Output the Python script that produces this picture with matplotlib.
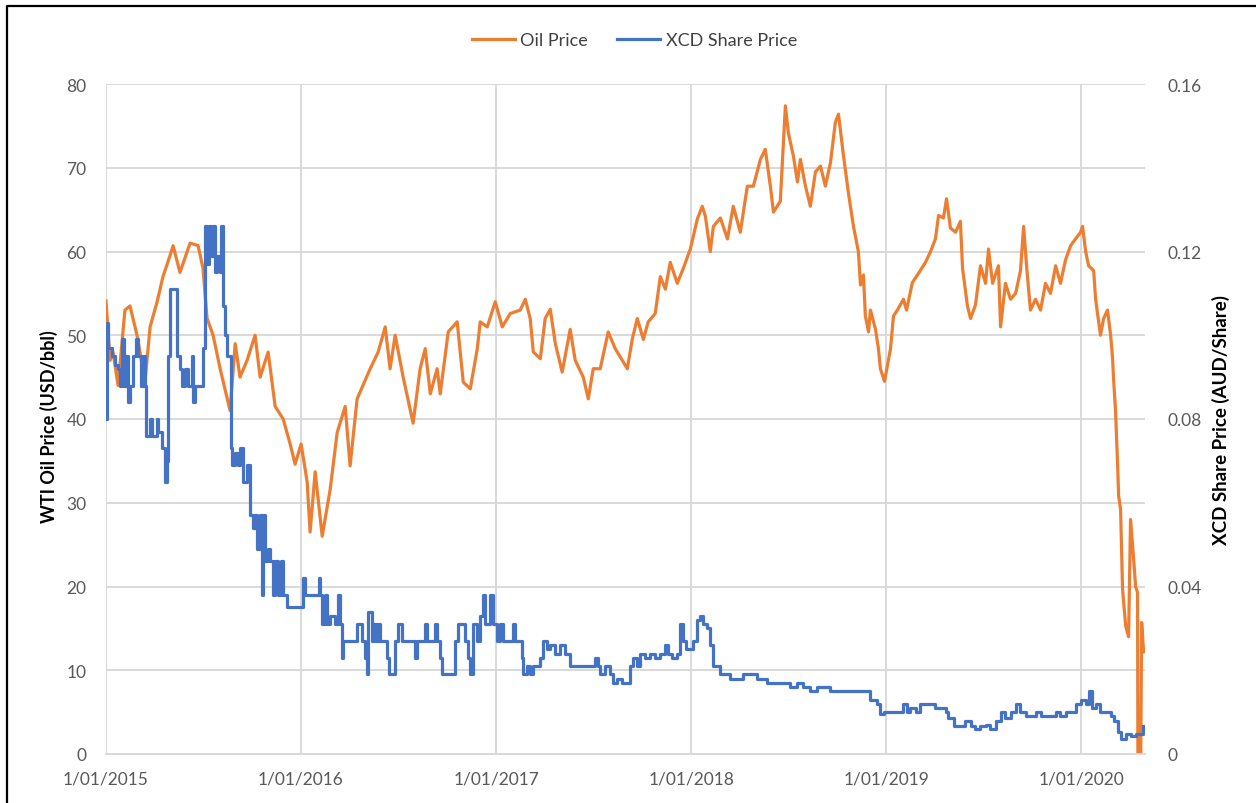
import datetime as dt
import matplotlib
matplotlib.use("Agg")
import matplotlib.pyplot as plt
import matplotlib.dates as mdates
from matplotlib.lines import Line2D

# time is given as years since 1/01/2015
oil_yr = [0.000, 0.021, 0.036, 0.062, 0.097, 0.123, 0.159, 0.200, 0.226, 0.262,
          0.292, 0.328, 0.344, 0.379, 0.431, 0.472, 0.497, 0.518, 0.549, 0.585,
          0.636, 0.662, 0.687, 0.723, 0.764, 0.790, 0.831, 0.867, 0.908, 0.944,
          0.969, 1.000, 1.031, 1.046, 1.072, 1.108, 1.149, 1.185, 1.226, 1.251,
          1.287, 1.354, 1.395, 1.431, 1.456, 1.482, 1.523, 1.574, 1.610, 1.636,
          1.662, 1.697, 1.713, 1.754, 1.800, 1.831, 1.867, 1.903, 1.918, 1.954,
          1.995, 2.031, 2.072, 2.123, 2.149, 2.174, 2.190, 2.226, 2.251, 2.277,
          2.303, 2.338, 2.379, 2.405, 2.446, 2.472, 2.497, 2.533, 2.574, 2.610,
          2.646, 2.672, 2.697, 2.723, 2.754, 2.779, 2.815, 2.841, 2.867, 2.892,
          2.928, 2.959, 2.995, 3.031, 3.056, 3.072, 3.097, 3.113, 3.149, 3.185,
          3.215, 3.251, 3.287, 3.318, 3.354, 3.379, 3.405, 3.421, 3.456, 3.482,
          3.497, 3.523, 3.544, 3.559, 3.585, 3.610, 3.636, 3.662, 3.687, 3.713,
          3.738, 3.754, 3.779, 3.805, 3.831, 3.856, 3.867, 3.882, 3.892, 3.908,
          3.918, 3.944, 3.959, 3.969, 3.990, 4.021, 4.036, 4.056, 4.087, 4.103,
          4.133, 4.159, 4.200, 4.226, 4.251, 4.267, 4.292, 4.308, 4.328, 4.354,
          4.379, 4.390, 4.415, 4.431, 4.456, 4.482, 4.508, 4.523, 4.544, 4.574,
          4.585, 4.610, 4.636, 4.662, 4.687, 4.703, 4.718, 4.738, 4.764, 4.790,
          4.815, 4.841, 4.867, 4.892, 4.918, 4.944, 4.969, 4.995, 5.005, 5.021,
          5.036, 5.062, 5.072, 5.097, 5.113, 5.133, 5.149, 5.159, 5.164, 5.174,
          5.185, 5.190, 5.200, 5.210, 5.226, 5.241, 5.251, 5.262, 5.277, 5.287,
          5.292, 5.308, 5.318]
oil_price = [54.1, 47, 48, 44, 53, 53.5, 50, 44.5, 51, 54,
             57, 59.5, 60.7, 57.5, 61, 60.7, 58, 52, 50, 46,
             41, 49, 45, 47, 50, 45, 48, 41.5, 40, 37,
             34.6, 37, 32.5, 26.5, 33.7, 26, 31.6, 38.4, 41.5, 34.4,
             42.4, 46, 48, 51, 46, 50, 45, 39.5, 46, 48.4,
             43, 46, 43, 50.4, 51.6, 44.4, 43.6, 48.4, 51.6, 51,
             54, 51, 52.6, 53, 54.3, 52, 48, 47.2, 52, 53.1,
             49, 45.6, 50.7, 47, 45, 42.4, 46, 46, 50.4, 48.4,
             47, 46, 49.5, 52, 49.5, 51.6, 52.6, 57, 55.5, 58.7,
             56.2, 58, 60.3, 63.9, 65.4, 64.2, 60, 63, 64, 61.5,
             65.4, 62.3, 67.8, 67.8, 71, 72.2, 67.8, 64.7, 66, 77.4,
             74.2, 71.4, 68.3, 71, 67.8, 65.4, 69.5, 70.2, 67.8, 70.6,
             75.4, 76.4, 71.6, 67, 63, 60, 56, 57.2, 52.3, 50.4,
             53, 50.7, 48.4, 46, 44.5, 48.4, 52.3, 53, 54.3, 53,
             56.3, 57.2, 58.7, 60, 61.5, 64.3, 64, 66.3, 62.8, 62.3,
             63.6, 58, 53.5, 52, 53.6, 58.3, 56.2, 60.3, 56.2, 58.3,
             51, 56.2, 54.3, 55, 57.7, 63, 58.3, 53, 54.3, 53,
             56.2, 55, 58.3, 56.2, 59, 60.7, 61.5, 62.3, 63, 60,
             58.3, 57.7, 54.3, 50, 52, 53, 50, 47.2, 44.8, 41,
             34.4, 30.8, 29.2, 19.7, 15.3, 14, 28, 24.8, 20, 19.3,
             -37.6, 15.7, 12.2]

xcd_yr = [0.000, 0.003, 0.010, 0.031, 0.046, 0.062, 0.072, 0.082, 0.092, 0.103,
          0.113, 0.123, 0.138, 0.154, 0.164, 0.179, 0.190, 0.200, 0.205, 0.226,
          0.236, 0.262, 0.267, 0.287, 0.303, 0.313, 0.318, 0.328, 0.359, 0.364,
          0.379, 0.390, 0.405, 0.421, 0.441, 0.446, 0.456, 0.482, 0.497, 0.508,
          0.518, 0.528, 0.538, 0.549, 0.559, 0.569, 0.585, 0.590, 0.600, 0.610,
          0.621, 0.636, 0.641, 0.646, 0.662, 0.677, 0.687, 0.703, 0.723, 0.738,
          0.754, 0.764, 0.774, 0.790, 0.800, 0.805, 0.815, 0.831, 0.841, 0.856,
          0.867, 0.882, 0.897, 0.908, 0.928, 0.995, 1.010, 1.021, 1.087, 1.092,
          1.097, 1.108, 1.123, 1.133, 1.149, 1.174, 1.190, 1.200, 1.210, 1.215,
          1.277, 1.287, 1.303, 1.313, 1.328, 1.338, 1.344, 1.354, 1.364, 1.374,
          1.385, 1.395, 1.405, 1.431, 1.441, 1.451, 1.472, 1.482, 1.497, 1.518,
          1.574, 1.585, 1.595, 1.636, 1.646, 1.677, 1.687, 1.697, 1.713, 1.723,
          1.779, 1.790, 1.805, 1.826, 1.841, 1.856, 1.867, 1.882, 1.903, 1.918,
          1.933, 1.944, 1.969, 1.985, 2.005, 2.021, 2.036, 2.072, 2.087, 2.097,
          2.123, 2.133, 2.138, 2.159, 2.174, 2.190, 2.210, 2.226, 2.241, 2.262,
          2.277, 2.303, 2.328, 2.354, 2.379, 2.431, 2.456, 2.508, 2.523, 2.533,
          2.559, 2.585, 2.600, 2.621, 2.646, 2.672, 2.687, 2.703, 2.723, 2.738,
          2.764, 2.790, 2.815, 2.841, 2.867, 2.882, 2.903, 2.928, 2.944, 2.959,
          2.974, 2.995, 3.010, 3.031, 3.046, 3.062, 3.082, 3.097, 3.113, 3.133,
          3.149, 3.174, 3.200, 3.236, 3.267, 3.287, 3.303, 3.338, 3.390, 3.441,
          3.472, 3.508, 3.544, 3.574, 3.610, 3.646, 3.677, 3.713, 3.764, 3.800,
          3.841, 3.892, 3.918, 3.954, 3.969, 3.985, 4.072, 4.087, 4.103, 4.123,
          4.149, 4.174, 4.190, 4.226, 4.251, 4.277, 4.303, 4.318, 4.344, 4.379,
          4.405, 4.431, 4.456, 4.482, 4.508, 4.533, 4.559, 4.585, 4.610, 4.636,
          4.662, 4.687, 4.713, 4.738, 4.764, 4.790, 4.815, 4.841, 4.867, 4.892,
          4.918, 4.944, 4.969, 4.995, 5.021, 5.036, 5.056, 5.072, 5.097, 5.123,
          5.149, 5.164, 5.185, 5.200, 5.226, 5.251, 5.277, 5.303, 5.313]
xcd_price = [0.080, 0.103, 0.097, 0.095, 0.093, 0.092, 0.088, 0.099, 0.088, 0.095,
             0.084, 0.088, 0.095, 0.099, 0.095, 0.088, 0.095, 0.088, 0.076, 0.080,
             0.076, 0.080, 0.077, 0.073, 0.065, 0.070, 0.095, 0.111, 0.111, 0.095,
             0.092, 0.088, 0.092, 0.088, 0.095, 0.084, 0.088, 0.088, 0.097, 0.126,
             0.117, 0.126, 0.119, 0.126, 0.115, 0.119, 0.115, 0.126, 0.107, 0.100,
             0.095, 0.095, 0.073, 0.069, 0.072, 0.069, 0.073, 0.065, 0.069, 0.057,
             0.054, 0.057, 0.049, 0.057, 0.038, 0.057, 0.046, 0.049, 0.046, 0.038,
             0.046, 0.038, 0.046, 0.038, 0.035, 0.035, 0.042, 0.038, 0.038, 0.042,
             0.038, 0.031, 0.038, 0.031, 0.033, 0.031, 0.038, 0.031, 0.023, 0.027,
             0.027, 0.031, 0.031, 0.027, 0.023, 0.019, 0.034, 0.034, 0.027, 0.031,
             0.027, 0.031, 0.027, 0.027, 0.023, 0.019, 0.019, 0.027, 0.031, 0.027,
             0.027, 0.023, 0.027, 0.031, 0.027, 0.027, 0.031, 0.027, 0.023, 0.019,
             0.019, 0.027, 0.031, 0.031, 0.027, 0.023, 0.019, 0.031, 0.027, 0.033,
             0.038, 0.031, 0.038, 0.031, 0.027, 0.031, 0.027, 0.027, 0.031, 0.027,
             0.027, 0.023, 0.019, 0.021, 0.019, 0.021, 0.021, 0.023, 0.027, 0.025,
             0.026, 0.024, 0.026, 0.024, 0.021, 0.021, 0.021, 0.023, 0.021, 0.019,
             0.021, 0.019, 0.017, 0.018, 0.017, 0.017, 0.021, 0.023, 0.021, 0.024,
             0.023, 0.024, 0.023, 0.024, 0.026, 0.024, 0.023, 0.024, 0.031, 0.027,
             0.025, 0.025, 0.027, 0.032, 0.033, 0.031, 0.030, 0.026, 0.021, 0.021,
             0.019, 0.019, 0.018, 0.018, 0.019, 0.019, 0.019, 0.018, 0.017, 0.017,
             0.017, 0.016, 0.017, 0.016, 0.015, 0.016, 0.016, 0.015, 0.015, 0.015,
             0.015, 0.015, 0.013, 0.012, 0.0095, 0.010, 0.010, 0.012, 0.010, 0.011,
             0.010, 0.012, 0.012, 0.012, 0.011, 0.011, 0.010, 0.0086, 0.0067, 0.0067,
             0.008, 0.0067, 0.006, 0.0067, 0.007, 0.006, 0.008, 0.010, 0.0085, 0.010,
             0.012, 0.010, 0.009, 0.009, 0.010, 0.009, 0.009, 0.009, 0.010, 0.009,
             0.010, 0.010, 0.012, 0.013, 0.012, 0.015, 0.011, 0.012, 0.010, 0.010,
             0.009, 0.008, 0.0052, 0.0036, 0.0047, 0.0043, 0.0047, 0.0047, 0.0067]

year_ticks = [2015, 2016, 2017, 2018, 2019, 2020]
year_labels = ["1/01/2015", "1/01/2016", "1/01/2017", "1/01/2018", "1/01/2019", "1/01/2020"]
oil_ticks = [0, 10, 20, 30, 40, 50, 60, 70, 80]
xcd_ticks = [0, 0.04, 0.08, 0.12, 0.16]
xcd_labels = ["0", "0.04", "0.08", "0.12", "0.16"]

plt.rcParams["font.family"] = ["Lato", "DejaVu Sans"]

base = mdates.date2num(dt.datetime(2015, 1, 1))
to_num = lambda yrs: [base + y * 365.25 for y in yrs]

fig = plt.figure(figsize=(12.56, 8.04), dpi=100)
ax = fig.add_axes([106 / 1256, 1 - 755 / 804, (1145 - 106) / 1256, (755 - 85) / 804])
ax2 = ax.twinx()

oil_c = "#ED7D31"
xcd_c = "#4472C4"
grid_c = "#D9D9D9"
tick_c = "#595959"

l1, = ax.plot(to_num(oil_yr), oil_price, color=oil_c, lw=2.3, label="Oil Price")
l2, = ax2.plot(to_num(xcd_yr), xcd_price, color=xcd_c, lw=2.3, drawstyle="steps-post",
               label="XCD Share Price")

ax.set_xlim(base, mdates.date2num(dt.datetime(2020, 4, 29)))
ax.set_ylim(0, 80)
ax2.set_ylim(0, 0.16)

ax.set_xticks([mdates.date2num(dt.datetime(y, 1, 1)) for y in year_ticks])
ax.set_xticklabels(year_labels)
ax.set_yticks(oil_ticks)
ax.set_yticklabels([str(v) for v in oil_ticks])
ax2.set_yticks(xcd_ticks)
ax2.set_yticklabels(xcd_labels)

ax.grid(True, color=grid_c, lw=1.4)
ax.set_axisbelow(True)
for a in (ax, ax2):
    for s in a.spines.values():
        s.set_visible(False)
    a.tick_params(length=0, labelsize=12.5, labelcolor=tick_c)
ax.spines["bottom"].set_visible(True)
ax.spines["bottom"].set_color(grid_c)
ax.spines["bottom"].set_linewidth(1.4)
ax.tick_params(axis="y", pad=14)
ax.tick_params(axis="x", pad=12)
ax2.tick_params(axis="y", pad=16)

ax.set_ylabel("WTI Oil Price (USD/bbl)", fontsize=13, fontweight="bold")
ax2.set_ylabel("XCD Share Price (AUD/Share)", fontsize=13.5, fontweight="bold")
ax.yaxis.set_label_coords(-0.046, 0.49)
ax2.yaxis.set_label_coords(1.0645, 0.5)

fig.legend(handles=[l1, l2], loc="center", bbox_to_anchor=(0.505, 1 - 41 / 804), ncol=2,
           frameon=False, fontsize=13, handlelength=2.4, columnspacing=1.6, handletextpad=0.3,
           labelcolor="#404040")

# chart border (left and top edges visible)
fig.add_artist(Line2D([7 / 1256, 7 / 1256, 1.0], [0.0, 1 - 7 / 804, 1 - 7 / 804],
                      transform=fig.transFigure, color="black", lw=1.6))

fig.savefig("out.png", dpi=100)
